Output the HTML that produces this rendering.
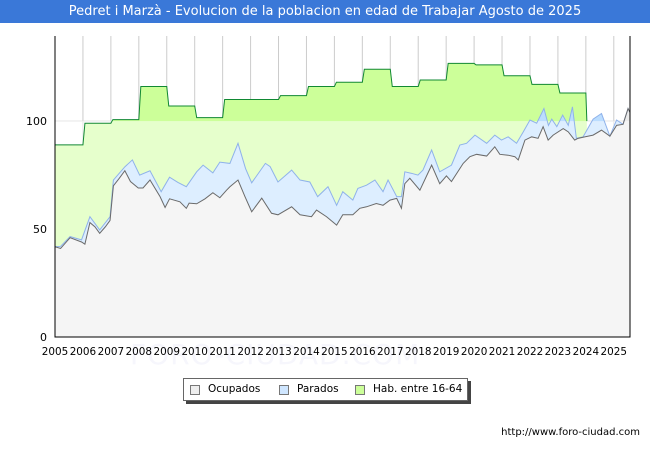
<!DOCTYPE html>
<html><head><meta charset="utf-8">
<style>
body{margin:0;background:#fff;width:650px;height:450px;overflow:hidden;font-family:"DejaVu Sans","Liberation Sans",sans-serif;}
#title{position:absolute;left:0;top:0;width:650px;height:23px;background:#3a78d8;color:#fff;font-size:13px;line-height:23px;text-align:center;}
svg{position:absolute;left:0;top:0;}
.sq{position:absolute;top:6px;width:8px;height:8px;border:1px solid #777;}
.lt{position:absolute;top:0;}
</style></head><body>
<div style="position:absolute;left:130px;top:338px;font-size:28px;color:#f6f6fc;letter-spacing:1px;white-space:nowrap;">FORO-CIUDAD.COM</div>
<div id="title">Pedret i Marzà - Evolucion de la poblacion en edad de Trabajar Agosto de 2025</div>
<svg id="chart" width="650" height="450"></svg>
<script>
const habYears=[2005,2006,2007,2008,2009,2010,2011,2012,2013,2014,2015,2016,2017,2018,2019,2020,2021,2022,2023];
const habVals=[89,99,100.7,116,107,101.6,110,110,111.8,116,118,124,116,119,126.7,126,121,117,113];
const ocuT=[2005.0,2005.2,2005.54,2005.95,2006.07,2006.25,2006.43,2006.6,2006.8,2006.97,2007.09,2007.3,2007.5,2007.7,2007.98,2008.15,2008.4,2008.76,2008.94,2009.1,2009.47,2009.7,2009.8,2010.07,2010.37,2010.65,2010.9,2011.14,2011.26,2011.55,2011.8,2012.04,2012.4,2012.75,2012.98,2013.47,2013.77,2014.18,2014.36,2014.72,2015.08,2015.3,2015.66,2015.91,2016.15,2016.5,2016.74,2016.99,2017.23,2017.4,2017.52,2017.7,2018.06,2018.48,2018.77,2019.01,2019.19,2019.61,2019.85,2020.09,2020.45,2020.74,2020.92,2021.22,2021.46,2021.58,2021.82,2022.06,2022.29,2022.47,2022.65,2022.83,2023.19,2023.37,2023.6,2023.72,2023.96,2024.26,2024.56,2024.86,2025.1,2025.33,2025.51,2025.58];
const ocuV=[41.8,41,46,44,43,53,51,48,51,54,70,73.5,77,72,69,69,72.7,65,60,64,62.6,59.6,62,61.7,64,66.8,64.5,68,69.6,72.7,65,58,64.3,57.3,56.6,60.3,56.6,55.7,58.8,55.7,51.8,56.6,56.6,59.6,60.3,61.8,61,63.4,64.2,59.6,71,73.5,68,79.6,71,74.6,72,80.4,83.5,84.6,83.8,88.1,84.6,84.2,83.5,82,91.2,92.7,92,97.4,91.2,93.5,96.5,95,91.2,92,92.7,93.5,95.8,93,98,98.5,105.8,104];
const parT=[2005.0,2005.2,2005.54,2005.95,2006.25,2006.6,2006.97,2007.09,2007.5,2007.77,2008.03,2008.4,2008.8,2009.1,2009.4,2009.7,2010.07,2010.3,2010.65,2010.9,2011.26,2011.55,2011.82,2012.04,2012.53,2012.7,2012.98,2013.47,2013.77,2014.12,2014.4,2014.77,2015.08,2015.3,2015.66,2015.84,2016.15,2016.45,2016.74,2016.92,2017.23,2017.4,2017.52,2017.76,2017.99,2018.17,2018.48,2018.77,2019.19,2019.49,2019.73,2020.03,2020.45,2020.74,2020.98,2021.22,2021.52,2021.76,2022.0,2022.24,2022.5,2022.66,2022.78,2022.96,2023.17,2023.37,2023.52,2023.66,2023.9,2024.26,2024.56,2024.86,2025.1,2025.33,2025.51,2025.58];
const parV=[41.8,42,46.5,45,55.7,49.6,55.7,72.7,78.8,82,75,77,67.3,74,71.6,69.6,76.5,79.6,76,81,80.4,89.7,78,71.4,80.4,78.9,71.8,77.3,72.7,71.8,65,69.6,61,67.3,63.4,68.8,70.3,72.7,67.3,72.7,65,65,76.5,75.8,75,77.3,86.6,76.5,79.6,88.9,89.7,93.5,89.7,93.5,91.2,92.7,89.7,95,100.5,99,105.8,98,100.9,97.4,102.8,98,106.6,92,92.7,100.9,103.5,93,100.5,98.5,105.8,104];
const yTicks=[0,50,100];
const xTicks=[2005,2006,2007,2008,2009,2010,2011,2012,2013,2014,2015,2016,2017,2018,2019,2020,2021,2022,2023,2024,2025];

const L=55,R=630,T=36,B=337,X0=2005,X1=2025.58,YMAX=139.4;
const xs=t=>L+(t-X0)/(X1-X0)*(R-L);
const ys=v=>B-v/YMAX*(B-T);
const svg=document.getElementById('chart');
const NS='http://www.w3.org/2000/svg';
function mk(tag,attrs,parent){const e=document.createElementNS(NS,tag);for(const k in attrs)e.setAttribute(k,attrs[k]);(parent||svg).appendChild(e);return e;}

xTicks.forEach(t=>{const g=mk('line',{x1:xs(t),x2:xs(t),y1:T,y2:B,stroke:'#cccccc','stroke-width':1});

});
yTicks.forEach(v=>{const g=mk('line',{x1:L,x2:R,y1:ys(v),y2:ys(v),stroke:'#dddddd','stroke-width':1});

});

let habPts=[];
habYears.forEach((y,i)=>{habPts.push([xs(y)+(i?2:0),ys(habVals[i])]);habPts.push([xs(y+1),ys(habVals[i])]);});
const habEnd=xs(habYears[habYears.length-1]+1);
const habPoly=habPts.map(p=>p.join(',')).join(' ')+` ${habEnd+1},${ys(100)} ${habEnd+1},${B} ${L},${B}`;
const habArea=mk('polygon',{points:habPoly,fill:'#ccff99'});



function series(T_,V_,fill,name){
  const pts=T_.map((t,i)=>[xs(t),ys(V_[i])]);
  const a=mk('polygon',{points:pts.map(p=>p.join(',')).join(' ')+` ${pts[pts.length-1][0]},${B} ${pts[0][0]},${B}`,fill:fill});
  
  
  return pts;
}
const parPts=series(parT,parV,'#bbddff','parados');
const ocuPts=series(ocuT,ocuV,'#ebebeb','ocupados');

const ov=mk('rect',{x:L,y:ys(100),width:R-L,height:B-ys(100),fill:'#fff','fill-opacity':0.5});



const hl=mk('polyline',{points:habPts.map(p=>p.join(',')).join(' ')+` ${habEnd+1},${ys(100)}`,fill:'none',stroke:'#118833','stroke-width':1});


const pl=mk('polyline',{points:parPts.map(p=>p.join(',')).join(' '),fill:'none',stroke:'#8fb2ea','stroke-width':1});


const ol=mk('polyline',{points:ocuPts.map(p=>p.join(',')).join(' '),fill:'none',stroke:'#6a6a6a','stroke-width':1});



const fr=mk('path',{d:`M${L},${T} V${B} H${R} V${T}`,fill:'none',stroke:'#000','stroke-width':1});



xTicks.forEach(t=>{const e=mk('text',{x:xs(t),y:355,'font-size':11,'text-anchor':'middle',fill:'#000',textLength:26.5,lengthAdjust:'spacingAndGlyphs'});e.textContent=t;

});
yTicks.forEach(v=>{const e=mk('text',{x:47,y:ys(v)+4,'font-size':11,'text-anchor':'end',fill:'#000'});e.textContent=v;

});
</script>
<div style="position:absolute;left:183px;top:378px;width:283px;height:21px;border:1px solid #666;background:#fff;box-shadow:3px 3px 0 #444;font-size:10.5px;line-height:21px;white-space:nowrap;">
 <span class="sq" style="left:6px;background:#eee"></span><span class="lt" style="left:24px">Ocupados</span>
 <span class="sq" style="left:95px;background:#cfe6ff"></span><span class="lt" style="left:113px">Parados</span>
 <span class="sq" style="left:171px;background:#ccff99"></span><span class="lt" style="left:189px">Hab. entre 16-64</span>
</div>
<div style="position:absolute;right:10px;top:427px;font-size:10px;color:#000;">http://www.foro-ciudad.com</div>
</body></html>
